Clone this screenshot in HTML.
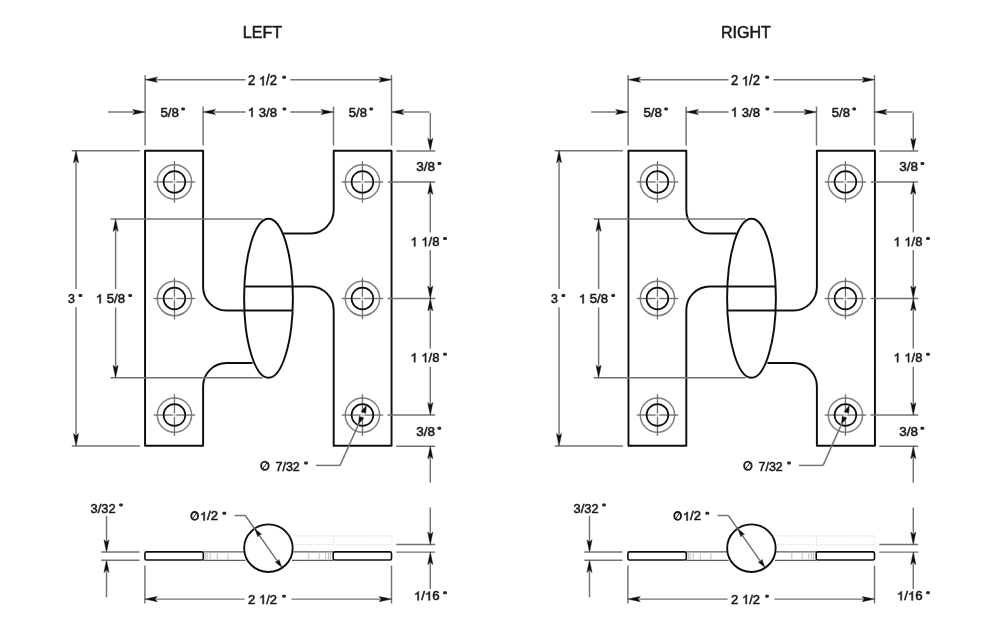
<!DOCTYPE html>
<html><head><meta charset="utf-8"><title>Hinge dimensions</title>
<style>
html,body{margin:0;padding:0;background:#fff;overflow:hidden;}
svg{display:block;font-family:"Liberation Sans",sans-serif;}
</style></head><body>
<svg width="989" height="638" viewBox="0 0 989 638">
<defs><filter id="b" x="0" y="0" width="989" height="638" filterUnits="userSpaceOnUse"><feGaussianBlur stdDeviation="0.55"/></filter></defs>
<rect width="989" height="638" fill="#fff"/>
<g filter="url(#b)">
<g transform="translate(242.82 37.75) scale(1.0138 1)" fill="#1a1a1a" stroke="#1a1a1a" stroke-width="0.55" font-size="15.8">
<text x="0.00" y="0" xml:space="preserve">LEFT</text>
</g>
<g transform="translate(721.02 37.75) scale(1.0145 1)" fill="#1a1a1a" stroke="#1a1a1a" stroke-width="0.55" font-size="15.8">
<text x="0.00" y="0" xml:space="preserve">RIGHT</text>
</g>
<path d="M294.00 535.90L391.80 535.90" stroke="#d4d4d4" stroke-width="1" fill="none" stroke-dasharray="1.2 1.6"/>
<path d="M294.00 544.80L391.80 544.80" stroke="#cacaca" stroke-width="1" fill="none" stroke-dasharray="1.2 1.6"/>
<path d="M333.50 535.90L333.50 544.80" stroke="#dcdcdc" stroke-width="1" fill="none" stroke-dasharray="1.2 1.6"/>
<path d="M391.80 535.90L391.80 544.80" stroke="#dcdcdc" stroke-width="1" fill="none" stroke-dasharray="1.2 1.6"/>
<path d="M203.30 551.85L245.50 551.85" stroke="#5c5c5c" stroke-width="1.25" fill="none" />
<path d="M292.00 551.85L333.20 551.85" stroke="#5c5c5c" stroke-width="1.25" fill="none" />
<path d="M203.30 560.25L245.50 560.25" stroke="#5c5c5c" stroke-width="1.25" fill="none" />
<path d="M292.00 560.25L333.20 560.25" stroke="#5c5c5c" stroke-width="1.25" fill="none" />
<path d="M205.40 551.90L205.40 560.20" stroke="#c2c2c2" stroke-width="1" fill="none" />
<path d="M207.20 551.90L207.20 560.20" stroke="#c2c2c2" stroke-width="1" fill="none" />
<path d="M210.20 551.90L210.20 560.20" stroke="#c2c2c2" stroke-width="1" fill="none" />
<path d="M217.30 551.90L217.30 560.20" stroke="#c2c2c2" stroke-width="1" fill="none" />
<path d="M227.90 551.90L227.90 560.20" stroke="#c2c2c2" stroke-width="1" fill="none" />
<path d="M308.80 551.90L308.80 560.20" stroke="#c2c2c2" stroke-width="1" fill="none" />
<path d="M319.20 551.90L319.20 560.20" stroke="#c2c2c2" stroke-width="1" fill="none" />
<path d="M325.70 551.90L325.70 560.20" stroke="#c2c2c2" stroke-width="1" fill="none" />
<path d="M328.60 551.90L328.60 560.20" stroke="#c2c2c2" stroke-width="1" fill="none" />
<path d="M330.60 551.90L330.60 560.20" stroke="#c2c2c2" stroke-width="1" fill="none" />
<rect x="144.90" y="551.9" width="58.40" height="8.1" rx="1.6" fill="#fff" stroke="#111" stroke-width="1.6"/>
<rect x="333.20" y="551.9" width="58.30" height="8.1" rx="1.6" fill="#fff" stroke="#111" stroke-width="1.6"/>
<ellipse cx="268.40" cy="548.15" rx="24.25" ry="23.8" fill="#fff" stroke="#111" stroke-width="1.9"/>
<g transform="translate(0.00 0)">
<path d="M292.8 310.5H226.5A23.4 23.4 0 0 1 203.1 287.1V150.7H145.05V445.7H203.1V386.4A23.4 23.4 0 0 1 226.5 363.0H252.6" fill="none" stroke="#111" stroke-width="1.95" stroke-linejoin="round" stroke-linecap="butt"/>
<path d="M283.4 233.5H310.3A23.4 23.4 0 0 0 333.7 210.1V150.7H391.55V445.7H333.7V309.9A23.4 23.4 0 0 0 310.3 286.5H244.2" fill="none" stroke="#111" stroke-width="1.95" stroke-linejoin="round" stroke-linecap="butt"/>
<ellipse cx="268.5" cy="298.3" rx="24.4" ry="79.5" fill="none" stroke="#111" stroke-width="1.95" stroke-linejoin="round" stroke-linecap="butt"/>
</g>
<circle cx="174.45" cy="181.95" r="17.15" fill="none" stroke="#808080" stroke-width="1.5"/>
<path d="M171.45 181.95L177.45 181.95" stroke="#c8c8c8" stroke-width="1.2" fill="none"/>
<path d="M153.65 181.95L172.45 181.95" stroke="#6e6e6e" stroke-width="1.3" fill="none"/>
<path d="M176.45 181.95L195.25 181.95" stroke="#6e6e6e" stroke-width="1.3" fill="none"/>
<path d="M174.45 178.95L174.45 184.95" stroke="#c8c8c8" stroke-width="1.2" fill="none"/>
<path d="M174.45 161.15L174.45 179.95" stroke="#6e6e6e" stroke-width="1.3" fill="none"/>
<path d="M174.45 183.95L174.45 202.75" stroke="#6e6e6e" stroke-width="1.3" fill="none"/>
<circle cx="174.45" cy="181.95" r="10.85" fill="none" stroke="#111" stroke-width="1.65"/>
<circle cx="174.45" cy="298.5" r="17.15" fill="none" stroke="#808080" stroke-width="1.5"/>
<path d="M171.45 298.50L177.45 298.50" stroke="#c8c8c8" stroke-width="1.2" fill="none"/>
<path d="M153.65 298.50L172.45 298.50" stroke="#6e6e6e" stroke-width="1.3" fill="none"/>
<path d="M176.45 298.50L195.25 298.50" stroke="#6e6e6e" stroke-width="1.3" fill="none"/>
<path d="M174.45 295.50L174.45 301.50" stroke="#c8c8c8" stroke-width="1.2" fill="none"/>
<path d="M174.45 277.70L174.45 296.50" stroke="#6e6e6e" stroke-width="1.3" fill="none"/>
<path d="M174.45 300.50L174.45 319.30" stroke="#6e6e6e" stroke-width="1.3" fill="none"/>
<circle cx="174.45" cy="298.5" r="10.85" fill="none" stroke="#111" stroke-width="1.65"/>
<circle cx="174.45" cy="415.05" r="17.15" fill="none" stroke="#808080" stroke-width="1.5"/>
<path d="M171.45 415.05L177.45 415.05" stroke="#c8c8c8" stroke-width="1.2" fill="none"/>
<path d="M153.65 415.05L172.45 415.05" stroke="#6e6e6e" stroke-width="1.3" fill="none"/>
<path d="M176.45 415.05L195.25 415.05" stroke="#6e6e6e" stroke-width="1.3" fill="none"/>
<path d="M174.45 412.05L174.45 418.05" stroke="#c8c8c8" stroke-width="1.2" fill="none"/>
<path d="M174.45 394.25L174.45 413.05" stroke="#6e6e6e" stroke-width="1.3" fill="none"/>
<path d="M174.45 417.05L174.45 435.85" stroke="#6e6e6e" stroke-width="1.3" fill="none"/>
<circle cx="174.45" cy="415.05" r="10.85" fill="none" stroke="#111" stroke-width="1.65"/>
<circle cx="362.45" cy="181.95" r="17.15" fill="none" stroke="#808080" stroke-width="1.5"/>
<path d="M359.45 181.95L365.45 181.95" stroke="#c8c8c8" stroke-width="1.2" fill="none"/>
<path d="M341.65 181.95L360.45 181.95" stroke="#6e6e6e" stroke-width="1.3" fill="none"/>
<path d="M364.45 181.95L383.25 181.95" stroke="#6e6e6e" stroke-width="1.3" fill="none"/>
<path d="M362.45 178.95L362.45 184.95" stroke="#c8c8c8" stroke-width="1.2" fill="none"/>
<path d="M362.45 161.15L362.45 179.95" stroke="#6e6e6e" stroke-width="1.3" fill="none"/>
<path d="M362.45 183.95L362.45 202.75" stroke="#6e6e6e" stroke-width="1.3" fill="none"/>
<circle cx="362.45" cy="181.95" r="10.85" fill="none" stroke="#111" stroke-width="1.65"/>
<circle cx="362.45" cy="298.5" r="17.15" fill="none" stroke="#808080" stroke-width="1.5"/>
<path d="M359.45 298.50L365.45 298.50" stroke="#c8c8c8" stroke-width="1.2" fill="none"/>
<path d="M341.65 298.50L360.45 298.50" stroke="#6e6e6e" stroke-width="1.3" fill="none"/>
<path d="M364.45 298.50L383.25 298.50" stroke="#6e6e6e" stroke-width="1.3" fill="none"/>
<path d="M362.45 295.50L362.45 301.50" stroke="#c8c8c8" stroke-width="1.2" fill="none"/>
<path d="M362.45 277.70L362.45 296.50" stroke="#6e6e6e" stroke-width="1.3" fill="none"/>
<path d="M362.45 300.50L362.45 319.30" stroke="#6e6e6e" stroke-width="1.3" fill="none"/>
<circle cx="362.45" cy="298.5" r="10.85" fill="none" stroke="#111" stroke-width="1.65"/>
<circle cx="362.45" cy="415.05" r="17.15" fill="none" stroke="#808080" stroke-width="1.5"/>
<path d="M359.45 415.05L365.45 415.05" stroke="#c8c8c8" stroke-width="1.2" fill="none"/>
<path d="M341.65 415.05L360.45 415.05" stroke="#6e6e6e" stroke-width="1.3" fill="none"/>
<path d="M364.45 415.05L383.25 415.05" stroke="#6e6e6e" stroke-width="1.3" fill="none"/>
<path d="M362.45 412.05L362.45 418.05" stroke="#c8c8c8" stroke-width="1.2" fill="none"/>
<path d="M362.45 394.25L362.45 413.05" stroke="#6e6e6e" stroke-width="1.3" fill="none"/>
<path d="M362.45 417.05L362.45 435.85" stroke="#6e6e6e" stroke-width="1.3" fill="none"/>
<circle cx="362.45" cy="415.05" r="10.85" fill="none" stroke="#111" stroke-width="1.65"/>
<path d="M145.10 75.00L145.10 145.50" stroke="#727272" stroke-width="1.45" fill="none" />
<path d="M391.50 75.00L391.50 145.50" stroke="#727272" stroke-width="1.45" fill="none" />
<path d="M203.10 106.50L203.10 145.50" stroke="#727272" stroke-width="1.45" fill="none" />
<path d="M333.50 106.50L333.50 145.50" stroke="#727272" stroke-width="1.45" fill="none" />
<path d="M155.10 79.70L245.50 79.70" stroke="#727272" stroke-width="1.45" fill="none" />
<path d="M290.30 79.70L381.50 79.70" stroke="#727272" stroke-width="1.45" fill="none" />
<path d="M145.10 79.70L157.50 77.15L155.20 79.70L157.50 82.25Z" fill="#111" stroke="#111" stroke-width="0.45" stroke-linejoin="miter"/>
<path d="M391.50 79.70L379.10 82.25L381.40 79.70L379.10 77.15Z" fill="#111" stroke="#111" stroke-width="0.45" stroke-linejoin="miter"/>
<g transform="translate(247.92 85.45) scale(0.9469 1)" fill="#1a1a1a" stroke="#1a1a1a" stroke-width="0.55" font-size="13.8">
<text x="0.00" y="0" xml:space="preserve">2 </text>
<path transform="translate(11.51 0) scale(0.006738 0.006435)" d="M763 0H583V-1147Q518 -1085 412.5 -1023Q307 -961 223 -930V-1104Q374 -1175 487 -1276Q600 -1377 647 -1472H763Z" stroke-width="81.6"/>
<text x="19.18" y="0" xml:space="preserve">/2</text>
</g>
<rect x="282.20" y="75.79" width="3.8" height="3.0" rx="1.1" fill="#2a2a2a"/>
<path d="M108.10 112.00L135.10 112.00" stroke="#727272" stroke-width="1.45" fill="none" />
<path d="M145.10 112.00L132.70 114.55L135.00 112.00L132.70 109.45Z" fill="#111" stroke="#111" stroke-width="0.45" stroke-linejoin="miter"/>
<g transform="translate(160.42 116.75) scale(1.0041 1)" fill="#1a1a1a" stroke="#1a1a1a" stroke-width="0.55" font-size="13.3">
<text x="0.00" y="0" xml:space="preserve">5/8</text>
</g>
<rect x="181.20" y="107.44" width="3.8" height="3.0" rx="1.1" fill="#2a2a2a"/>
<path d="M203.10 112.00L215.50 109.45L213.20 112.00L215.50 114.55Z" fill="#111" stroke="#111" stroke-width="0.45" stroke-linejoin="miter"/>
<path d="M213.10 112.00L245.50 112.00" stroke="#727272" stroke-width="1.45" fill="none" />
<g transform="translate(247.69 116.75) scale(0.9905 1)" fill="#1a1a1a" stroke="#1a1a1a" stroke-width="0.55" font-size="13.3">
<path transform="translate(0.00 0) scale(0.006494 0.006202)" d="M763 0H583V-1147Q518 -1085 412.5 -1023Q307 -961 223 -930V-1104Q374 -1175 487 -1276Q600 -1377 647 -1472H763Z" stroke-width="84.7"/>
<text x="7.40" y="0" xml:space="preserve"> 3/8</text>
</g>
<rect x="282.50" y="107.44" width="3.8" height="3.0" rx="1.1" fill="#2a2a2a"/>
<path d="M290.30 112.00L323.50 112.00" stroke="#727272" stroke-width="1.45" fill="none" />
<path d="M333.50 112.00L321.10 114.55L323.40 112.00L321.10 109.45Z" fill="#111" stroke="#111" stroke-width="0.45" stroke-linejoin="miter"/>
<g transform="translate(348.82 116.75) scale(0.9825 1)" fill="#1a1a1a" stroke="#1a1a1a" stroke-width="0.55" font-size="13.3">
<text x="0.00" y="0" xml:space="preserve">5/8</text>
</g>
<rect x="369.30" y="107.44" width="3.8" height="3.0" rx="1.1" fill="#2a2a2a"/>
<path d="M391.50 112.00L403.90 109.45L401.60 112.00L403.90 114.55Z" fill="#111" stroke="#111" stroke-width="0.45" stroke-linejoin="miter"/>
<path d="M401.50 112.00L429.60 112.00" stroke="#727272" stroke-width="1.45" fill="none" />
<path d="M430.30 112.90L430.30 140.50" stroke="#727272" stroke-width="1.45" fill="none" />
<path d="M430.30 150.60L427.75 138.20L430.30 140.50L432.85 138.20Z" fill="#111" stroke="#111" stroke-width="0.45" stroke-linejoin="miter"/>
<path d="M396.40 150.90L435.20 150.90" stroke="#727272" stroke-width="1.45" fill="none" />
<path d="M388.00 181.95L435.20 181.95" stroke="#727272" stroke-width="1.45" fill="none" />
<path d="M387.70 298.45L435.20 298.45" stroke="#727272" stroke-width="1.45" fill="none" />
<path d="M387.50 415.00L435.20 415.00" stroke="#727272" stroke-width="1.45" fill="none" />
<path d="M396.30 446.30L435.20 446.30" stroke="#727272" stroke-width="1.45" fill="none" />
<path d="M396.30 544.50L435.20 544.50" stroke="#727272" stroke-width="1.45" fill="none" />
<path d="M396.30 552.10L435.20 552.10" stroke="#727272" stroke-width="1.45" fill="none" />
<g transform="translate(416.22 171.30) scale(1.0149 1)" fill="#1a1a1a" stroke="#1a1a1a" stroke-width="0.55" font-size="13.3">
<text x="0.00" y="0" xml:space="preserve">3/8</text>
</g>
<rect x="437.50" y="161.99" width="3.8" height="3.0" rx="1.1" fill="#2a2a2a"/>
<path d="M430.30 181.95L432.85 194.35L430.30 192.05L427.75 194.35Z" fill="#111" stroke="#111" stroke-width="0.45" stroke-linejoin="miter"/>
<path d="M430.30 191.95L430.30 232.50" stroke="#727272" stroke-width="1.45" fill="none" />
<g transform="translate(410.40 246.35) scale(0.9798 1)" fill="#1a1a1a" stroke="#1a1a1a" stroke-width="0.55" font-size="13.3">
<path transform="translate(0.00 0) scale(0.006494 0.006202)" d="M763 0H583V-1147Q518 -1085 412.5 -1023Q307 -961 223 -930V-1104Q374 -1175 487 -1276Q600 -1377 647 -1472H763Z" stroke-width="84.7"/>
<path transform="translate(11.09 0) scale(0.006494 0.006202)" d="M763 0H583V-1147Q518 -1085 412.5 -1023Q307 -961 223 -930V-1104Q374 -1175 487 -1276Q600 -1377 647 -1472H763Z" stroke-width="84.7"/>
<text x="18.49" y="0" xml:space="preserve">/8</text>
</g>
<rect x="443.10" y="237.04" width="3.8" height="3.0" rx="1.1" fill="#2a2a2a"/>
<path d="M430.30 250.00L430.30 288.45" stroke="#727272" stroke-width="1.45" fill="none" />
<path d="M430.30 298.45L427.75 286.05L430.30 288.35L432.85 286.05Z" fill="#111" stroke="#111" stroke-width="0.45" stroke-linejoin="miter"/>
<path d="M430.30 298.45L432.85 310.85L430.30 308.55L427.75 310.85Z" fill="#111" stroke="#111" stroke-width="0.45" stroke-linejoin="miter"/>
<path d="M430.30 308.45L430.30 348.50" stroke="#727272" stroke-width="1.45" fill="none" />
<g transform="translate(410.40 362.15) scale(0.9798 1)" fill="#1a1a1a" stroke="#1a1a1a" stroke-width="0.55" font-size="13.3">
<path transform="translate(0.00 0) scale(0.006494 0.006202)" d="M763 0H583V-1147Q518 -1085 412.5 -1023Q307 -961 223 -930V-1104Q374 -1175 487 -1276Q600 -1377 647 -1472H763Z" stroke-width="84.7"/>
<path transform="translate(11.09 0) scale(0.006494 0.006202)" d="M763 0H583V-1147Q518 -1085 412.5 -1023Q307 -961 223 -930V-1104Q374 -1175 487 -1276Q600 -1377 647 -1472H763Z" stroke-width="84.7"/>
<text x="18.49" y="0" xml:space="preserve">/8</text>
</g>
<rect x="443.10" y="352.84" width="3.8" height="3.0" rx="1.1" fill="#2a2a2a"/>
<path d="M430.30 366.70L430.30 405.00" stroke="#727272" stroke-width="1.45" fill="none" />
<path d="M430.30 415.00L427.75 402.60L430.30 404.90L432.85 402.60Z" fill="#111" stroke="#111" stroke-width="0.45" stroke-linejoin="miter"/>
<g transform="translate(416.32 436.05) scale(1.0149 1)" fill="#1a1a1a" stroke="#1a1a1a" stroke-width="0.55" font-size="13.3">
<text x="0.00" y="0" xml:space="preserve">3/8</text>
</g>
<rect x="437.40" y="426.74" width="3.8" height="3.0" rx="1.1" fill="#2a2a2a"/>
<path d="M430.30 446.30L432.85 458.70L430.30 456.40L427.75 458.70Z" fill="#111" stroke="#111" stroke-width="0.45" stroke-linejoin="miter"/>
<path d="M430.30 456.30L430.30 482.70" stroke="#727272" stroke-width="1.45" fill="none" />
<path d="M430.30 507.60L430.30 534.50" stroke="#727272" stroke-width="1.45" fill="none" />
<path d="M430.30 544.50L427.75 532.10L430.30 534.40L432.85 532.10Z" fill="#111" stroke="#111" stroke-width="0.45" stroke-linejoin="miter"/>
<path d="M430.30 552.10L432.85 564.50L430.30 562.20L427.75 564.50Z" fill="#111" stroke="#111" stroke-width="0.45" stroke-linejoin="miter"/>
<path d="M430.30 562.10L430.30 589.00" stroke="#727272" stroke-width="1.45" fill="none" />
<g transform="translate(413.77 600.35) scale(1.0322 1)" fill="#1a1a1a" stroke="#1a1a1a" stroke-width="0.55" font-size="12.9">
<path transform="translate(0.00 0) scale(0.006299 0.006015)" d="M763 0H583V-1147Q518 -1085 412.5 -1023Q307 -961 223 -930V-1104Q374 -1175 487 -1276Q600 -1377 647 -1472H763Z" stroke-width="87.3"/>
<text x="7.17" y="0" xml:space="preserve">/</text>
<path transform="translate(10.76 0) scale(0.006299 0.006015)" d="M763 0H583V-1147Q518 -1085 412.5 -1023Q307 -961 223 -930V-1104Q374 -1175 487 -1276Q600 -1377 647 -1472H763Z" stroke-width="87.3"/>
<text x="17.93" y="0" xml:space="preserve">6</text>
</g>
<rect x="443.10" y="591.32" width="3.8" height="3.0" rx="1.1" fill="#2a2a2a"/>
<path d="M71.80 150.70L139.90 150.70" stroke="#727272" stroke-width="1.45" fill="none" />
<path d="M71.80 446.00L139.90 446.00" stroke="#727272" stroke-width="1.45" fill="none" />
<path d="M76.05 150.50L78.60 162.90L76.05 160.60L73.50 162.90Z" fill="#111" stroke="#111" stroke-width="0.45" stroke-linejoin="miter"/>
<path d="M76.05 160.50L76.05 289.00" stroke="#727272" stroke-width="1.45" fill="none" />
<path d="M76.05 307.30L76.05 436.00" stroke="#727272" stroke-width="1.45" fill="none" />
<path d="M76.05 446.00L73.50 433.60L76.05 435.90L78.60 433.60Z" fill="#111" stroke="#111" stroke-width="0.45" stroke-linejoin="miter"/>
<g transform="translate(68.12 303.35) scale(0.9280 1)" fill="#1a1a1a" stroke="#1a1a1a" stroke-width="0.55" font-size="13.3">
<text x="0.00" y="0" xml:space="preserve">3</text>
</g>
<rect x="78.50" y="294.04" width="3.8" height="3.0" rx="1.1" fill="#2a2a2a"/>
<path d="M110.60 219.00L262.60 219.00" stroke="#727272" stroke-width="1.45" fill="none" />
<path d="M110.60 377.70L262.60 377.70" stroke="#727272" stroke-width="1.45" fill="none" />
<path d="M115.60 219.00L118.15 231.40L115.60 229.10L113.05 231.40Z" fill="#111" stroke="#111" stroke-width="0.45" stroke-linejoin="miter"/>
<path d="M115.60 229.00L115.60 289.00" stroke="#727272" stroke-width="1.45" fill="none" />
<path d="M115.60 307.50L115.60 367.70" stroke="#727272" stroke-width="1.45" fill="none" />
<path d="M115.60 377.70L113.05 365.30L115.60 367.60L118.15 365.30Z" fill="#111" stroke="#111" stroke-width="0.45" stroke-linejoin="miter"/>
<g transform="translate(95.79 303.35) scale(0.9905 1)" fill="#1a1a1a" stroke="#1a1a1a" stroke-width="0.55" font-size="13.3">
<path transform="translate(0.00 0) scale(0.006494 0.006202)" d="M763 0H583V-1147Q518 -1085 412.5 -1023Q307 -961 223 -930V-1104Q374 -1175 487 -1276Q600 -1377 647 -1472H763Z" stroke-width="84.7"/>
<text x="7.40" y="0" xml:space="preserve"> 5/8</text>
</g>
<rect x="128.30" y="294.04" width="3.8" height="3.0" rx="1.1" fill="#2a2a2a"/>
<ellipse cx="264.90" cy="465.70" rx="3.75" ry="4.10" fill="none" stroke="#1a1a1a" stroke-width="1.85"/>
<path d="M262.20 469.39L267.60 462.01" stroke="#1a1a1a" stroke-width="1.0" fill="none"/>
<g transform="translate(275.52 470.55) scale(0.9740 1)" fill="#1a1a1a" stroke="#1a1a1a" stroke-width="0.55" font-size="12.8">
<text x="0.00" y="0" xml:space="preserve">7/32</text>
</g>
<rect x="304.10" y="461.59" width="3.8" height="3.0" rx="1.1" fill="#2a2a2a"/>
<path d="M315.90 465.40L340.10 465.40" stroke="#727272" stroke-width="1.45" fill="none" />
<path d="M340.10 465.40L358.99 423.11" stroke="#727272" stroke-width="1.45" fill="none" />
<path d="M366.26 405.66L365.67 413.44L363.49 412.31L361.15 411.55Z" fill="#111" stroke="#111" stroke-width="0.45" stroke-linejoin="miter"/>
<path d="M358.64 423.94L359.23 416.16L361.41 417.29L363.75 418.05Z" fill="#111" stroke="#111" stroke-width="0.45" stroke-linejoin="miter"/>
<g transform="translate(90.52 512.75) scale(0.9683 1)" fill="#1a1a1a" stroke="#1a1a1a" stroke-width="0.55" font-size="13.3">
<text x="0.00" y="0" xml:space="preserve">3/32</text>
</g>
<rect x="119.10" y="503.44" width="3.8" height="3.0" rx="1.1" fill="#2a2a2a"/>
<path d="M106.50 515.80L106.50 542.20" stroke="#727272" stroke-width="1.45" fill="none" />
<path d="M106.50 552.20L103.95 539.80L106.50 542.10L109.05 539.80Z" fill="#111" stroke="#111" stroke-width="0.45" stroke-linejoin="miter"/>
<path d="M106.50 560.00L109.05 572.40L106.50 570.10L103.95 572.40Z" fill="#111" stroke="#111" stroke-width="0.45" stroke-linejoin="miter"/>
<path d="M106.50 570.00L106.50 597.30" stroke="#727272" stroke-width="1.45" fill="none" />
<path d="M101.30 551.90L139.50 551.90" stroke="#727272" stroke-width="1.45" fill="none" />
<path d="M101.30 560.20L139.50 560.20" stroke="#727272" stroke-width="1.45" fill="none" />
<path d="M144.90 565.60L144.90 603.50" stroke="#727272" stroke-width="1.45" fill="none" />
<path d="M391.50 565.60L391.50 603.50" stroke="#727272" stroke-width="1.45" fill="none" />
<path d="M144.90 599.10L157.30 596.55L155.00 599.10L157.30 601.65Z" fill="#111" stroke="#111" stroke-width="0.45" stroke-linejoin="miter"/>
<path d="M154.90 599.10L244.60 599.10" stroke="#727272" stroke-width="1.45" fill="none" />
<path d="M291.40 599.10L381.50 599.10" stroke="#727272" stroke-width="1.45" fill="none" />
<path d="M391.50 599.10L379.10 601.65L381.40 599.10L379.10 596.55Z" fill="#111" stroke="#111" stroke-width="0.45" stroke-linejoin="miter"/>
<g transform="translate(248.02 603.95) scale(0.9825 1)" fill="#1a1a1a" stroke="#1a1a1a" stroke-width="0.55" font-size="13.3">
<text x="0.00" y="0" xml:space="preserve">2 </text>
<path transform="translate(11.09 0) scale(0.006494 0.006202)" d="M763 0H583V-1147Q518 -1085 412.5 -1023Q307 -961 223 -930V-1104Q374 -1175 487 -1276Q600 -1377 647 -1472H763Z" stroke-width="84.7"/>
<text x="18.49" y="0" xml:space="preserve">/2</text>
</g>
<rect x="282.10" y="594.64" width="3.8" height="3.0" rx="1.1" fill="#2a2a2a"/>
<ellipse cx="194.65" cy="515.90" rx="3.40" ry="3.95" fill="none" stroke="#1a1a1a" stroke-width="1.85"/>
<path d="M192.20 519.45L197.10 512.35" stroke="#1a1a1a" stroke-width="1.0" fill="none"/>
<g transform="translate(199.80 520.45) scale(1.0552 1)" fill="#1a1a1a" stroke="#1a1a1a" stroke-width="0.55" font-size="12.4">
<path transform="translate(0.00 0) scale(0.006055 0.005782)" d="M763 0H583V-1147Q518 -1085 412.5 -1023Q307 -961 223 -930V-1104Q374 -1175 487 -1276Q600 -1377 647 -1472H763Z" stroke-width="90.8"/>
<text x="6.90" y="0" xml:space="preserve">/2</text>
</g>
<rect x="222.40" y="511.77" width="3.8" height="3.0" rx="1.1" fill="#2a2a2a"/>
<path d="M234.60 515.50L245.30 515.50" stroke="#727272" stroke-width="1.45" fill="none" />
<path d="M245.30 515.50L279.82 564.57" stroke="#727272" stroke-width="1.45" fill="none" />
<path d="M281.70 567.28L275.29 562.00L277.65 561.45L278.98 559.43Z" fill="#111" stroke="#111" stroke-width="0.45" stroke-linejoin="miter"/>
<path d="M255.10 529.02L261.51 534.30L259.15 534.85L257.82 536.87Z" fill="#111" stroke="#111" stroke-width="0.45" stroke-linejoin="miter"/>
<path d="M777.00 535.90L874.80 535.90" stroke="#d4d4d4" stroke-width="1" fill="none" stroke-dasharray="1.2 1.6"/>
<path d="M777.00 544.80L874.80 544.80" stroke="#cacaca" stroke-width="1" fill="none" stroke-dasharray="1.2 1.6"/>
<path d="M816.50 535.90L816.50 544.80" stroke="#dcdcdc" stroke-width="1" fill="none" stroke-dasharray="1.2 1.6"/>
<path d="M874.80 535.90L874.80 544.80" stroke="#dcdcdc" stroke-width="1" fill="none" stroke-dasharray="1.2 1.6"/>
<path d="M686.30 551.85L728.50 551.85" stroke="#5c5c5c" stroke-width="1.25" fill="none" />
<path d="M775.00 551.85L816.20 551.85" stroke="#5c5c5c" stroke-width="1.25" fill="none" />
<path d="M686.30 560.25L728.50 560.25" stroke="#5c5c5c" stroke-width="1.25" fill="none" />
<path d="M775.00 560.25L816.20 560.25" stroke="#5c5c5c" stroke-width="1.25" fill="none" />
<path d="M688.40 551.90L688.40 560.20" stroke="#c2c2c2" stroke-width="1" fill="none" />
<path d="M690.20 551.90L690.20 560.20" stroke="#c2c2c2" stroke-width="1" fill="none" />
<path d="M693.20 551.90L693.20 560.20" stroke="#c2c2c2" stroke-width="1" fill="none" />
<path d="M700.30 551.90L700.30 560.20" stroke="#c2c2c2" stroke-width="1" fill="none" />
<path d="M710.90 551.90L710.90 560.20" stroke="#c2c2c2" stroke-width="1" fill="none" />
<path d="M791.80 551.90L791.80 560.20" stroke="#c2c2c2" stroke-width="1" fill="none" />
<path d="M802.20 551.90L802.20 560.20" stroke="#c2c2c2" stroke-width="1" fill="none" />
<path d="M808.70 551.90L808.70 560.20" stroke="#c2c2c2" stroke-width="1" fill="none" />
<path d="M811.60 551.90L811.60 560.20" stroke="#c2c2c2" stroke-width="1" fill="none" />
<path d="M813.60 551.90L813.60 560.20" stroke="#c2c2c2" stroke-width="1" fill="none" />
<rect x="627.90" y="551.9" width="58.40" height="8.1" rx="1.6" fill="#fff" stroke="#111" stroke-width="1.6"/>
<rect x="816.20" y="551.9" width="58.30" height="8.1" rx="1.6" fill="#fff" stroke="#111" stroke-width="1.6"/>
<ellipse cx="751.40" cy="548.15" rx="24.25" ry="23.8" fill="#fff" stroke="#111" stroke-width="1.9"/>
<g transform="translate(1020.00 0) scale(-1 1)">
<path d="M292.8 310.5H226.5A23.4 23.4 0 0 1 203.1 287.1V150.7H145.05V445.7H203.1V386.4A23.4 23.4 0 0 1 226.5 363.0H252.6" fill="none" stroke="#111" stroke-width="1.95" stroke-linejoin="round" stroke-linecap="butt"/>
<path d="M283.4 233.5H310.3A23.4 23.4 0 0 0 333.7 210.1V150.7H391.55V445.7H333.7V309.9A23.4 23.4 0 0 0 310.3 286.5H244.2" fill="none" stroke="#111" stroke-width="1.95" stroke-linejoin="round" stroke-linecap="butt"/>
<ellipse cx="268.5" cy="298.3" rx="24.4" ry="79.5" fill="none" stroke="#111" stroke-width="1.95" stroke-linejoin="round" stroke-linecap="butt"/>
</g>
<circle cx="657.45" cy="181.95" r="17.15" fill="none" stroke="#808080" stroke-width="1.5"/>
<path d="M654.45 181.95L660.45 181.95" stroke="#c8c8c8" stroke-width="1.2" fill="none"/>
<path d="M636.65 181.95L655.45 181.95" stroke="#6e6e6e" stroke-width="1.3" fill="none"/>
<path d="M659.45 181.95L678.25 181.95" stroke="#6e6e6e" stroke-width="1.3" fill="none"/>
<path d="M657.45 178.95L657.45 184.95" stroke="#c8c8c8" stroke-width="1.2" fill="none"/>
<path d="M657.45 161.15L657.45 179.95" stroke="#6e6e6e" stroke-width="1.3" fill="none"/>
<path d="M657.45 183.95L657.45 202.75" stroke="#6e6e6e" stroke-width="1.3" fill="none"/>
<circle cx="657.45" cy="181.95" r="10.85" fill="none" stroke="#111" stroke-width="1.65"/>
<circle cx="657.45" cy="298.5" r="17.15" fill="none" stroke="#808080" stroke-width="1.5"/>
<path d="M654.45 298.50L660.45 298.50" stroke="#c8c8c8" stroke-width="1.2" fill="none"/>
<path d="M636.65 298.50L655.45 298.50" stroke="#6e6e6e" stroke-width="1.3" fill="none"/>
<path d="M659.45 298.50L678.25 298.50" stroke="#6e6e6e" stroke-width="1.3" fill="none"/>
<path d="M657.45 295.50L657.45 301.50" stroke="#c8c8c8" stroke-width="1.2" fill="none"/>
<path d="M657.45 277.70L657.45 296.50" stroke="#6e6e6e" stroke-width="1.3" fill="none"/>
<path d="M657.45 300.50L657.45 319.30" stroke="#6e6e6e" stroke-width="1.3" fill="none"/>
<circle cx="657.45" cy="298.5" r="10.85" fill="none" stroke="#111" stroke-width="1.65"/>
<circle cx="657.45" cy="415.05" r="17.15" fill="none" stroke="#808080" stroke-width="1.5"/>
<path d="M654.45 415.05L660.45 415.05" stroke="#c8c8c8" stroke-width="1.2" fill="none"/>
<path d="M636.65 415.05L655.45 415.05" stroke="#6e6e6e" stroke-width="1.3" fill="none"/>
<path d="M659.45 415.05L678.25 415.05" stroke="#6e6e6e" stroke-width="1.3" fill="none"/>
<path d="M657.45 412.05L657.45 418.05" stroke="#c8c8c8" stroke-width="1.2" fill="none"/>
<path d="M657.45 394.25L657.45 413.05" stroke="#6e6e6e" stroke-width="1.3" fill="none"/>
<path d="M657.45 417.05L657.45 435.85" stroke="#6e6e6e" stroke-width="1.3" fill="none"/>
<circle cx="657.45" cy="415.05" r="10.85" fill="none" stroke="#111" stroke-width="1.65"/>
<circle cx="845.45" cy="181.95" r="17.15" fill="none" stroke="#808080" stroke-width="1.5"/>
<path d="M842.45 181.95L848.45 181.95" stroke="#c8c8c8" stroke-width="1.2" fill="none"/>
<path d="M824.65 181.95L843.45 181.95" stroke="#6e6e6e" stroke-width="1.3" fill="none"/>
<path d="M847.45 181.95L866.25 181.95" stroke="#6e6e6e" stroke-width="1.3" fill="none"/>
<path d="M845.45 178.95L845.45 184.95" stroke="#c8c8c8" stroke-width="1.2" fill="none"/>
<path d="M845.45 161.15L845.45 179.95" stroke="#6e6e6e" stroke-width="1.3" fill="none"/>
<path d="M845.45 183.95L845.45 202.75" stroke="#6e6e6e" stroke-width="1.3" fill="none"/>
<circle cx="845.45" cy="181.95" r="10.85" fill="none" stroke="#111" stroke-width="1.65"/>
<circle cx="845.45" cy="298.5" r="17.15" fill="none" stroke="#808080" stroke-width="1.5"/>
<path d="M842.45 298.50L848.45 298.50" stroke="#c8c8c8" stroke-width="1.2" fill="none"/>
<path d="M824.65 298.50L843.45 298.50" stroke="#6e6e6e" stroke-width="1.3" fill="none"/>
<path d="M847.45 298.50L866.25 298.50" stroke="#6e6e6e" stroke-width="1.3" fill="none"/>
<path d="M845.45 295.50L845.45 301.50" stroke="#c8c8c8" stroke-width="1.2" fill="none"/>
<path d="M845.45 277.70L845.45 296.50" stroke="#6e6e6e" stroke-width="1.3" fill="none"/>
<path d="M845.45 300.50L845.45 319.30" stroke="#6e6e6e" stroke-width="1.3" fill="none"/>
<circle cx="845.45" cy="298.5" r="10.85" fill="none" stroke="#111" stroke-width="1.65"/>
<circle cx="845.45" cy="415.05" r="17.15" fill="none" stroke="#808080" stroke-width="1.5"/>
<path d="M842.45 415.05L848.45 415.05" stroke="#c8c8c8" stroke-width="1.2" fill="none"/>
<path d="M824.65 415.05L843.45 415.05" stroke="#6e6e6e" stroke-width="1.3" fill="none"/>
<path d="M847.45 415.05L866.25 415.05" stroke="#6e6e6e" stroke-width="1.3" fill="none"/>
<path d="M845.45 412.05L845.45 418.05" stroke="#c8c8c8" stroke-width="1.2" fill="none"/>
<path d="M845.45 394.25L845.45 413.05" stroke="#6e6e6e" stroke-width="1.3" fill="none"/>
<path d="M845.45 417.05L845.45 435.85" stroke="#6e6e6e" stroke-width="1.3" fill="none"/>
<circle cx="845.45" cy="415.05" r="10.85" fill="none" stroke="#111" stroke-width="1.65"/>
<path d="M628.10 75.00L628.10 145.50" stroke="#727272" stroke-width="1.45" fill="none" />
<path d="M874.50 75.00L874.50 145.50" stroke="#727272" stroke-width="1.45" fill="none" />
<path d="M686.10 106.50L686.10 145.50" stroke="#727272" stroke-width="1.45" fill="none" />
<path d="M816.50 106.50L816.50 145.50" stroke="#727272" stroke-width="1.45" fill="none" />
<path d="M638.10 79.70L728.50 79.70" stroke="#727272" stroke-width="1.45" fill="none" />
<path d="M773.30 79.70L864.50 79.70" stroke="#727272" stroke-width="1.45" fill="none" />
<path d="M628.10 79.70L640.50 77.15L638.20 79.70L640.50 82.25Z" fill="#111" stroke="#111" stroke-width="0.45" stroke-linejoin="miter"/>
<path d="M874.50 79.70L862.10 82.25L864.40 79.70L862.10 77.15Z" fill="#111" stroke="#111" stroke-width="0.45" stroke-linejoin="miter"/>
<g transform="translate(730.92 85.45) scale(0.9469 1)" fill="#1a1a1a" stroke="#1a1a1a" stroke-width="0.55" font-size="13.8">
<text x="0.00" y="0" xml:space="preserve">2 </text>
<path transform="translate(11.51 0) scale(0.006738 0.006435)" d="M763 0H583V-1147Q518 -1085 412.5 -1023Q307 -961 223 -930V-1104Q374 -1175 487 -1276Q600 -1377 647 -1472H763Z" stroke-width="81.6"/>
<text x="19.18" y="0" xml:space="preserve">/2</text>
</g>
<rect x="765.20" y="75.79" width="3.8" height="3.0" rx="1.1" fill="#2a2a2a"/>
<path d="M591.10 112.00L618.10 112.00" stroke="#727272" stroke-width="1.45" fill="none" />
<path d="M628.10 112.00L615.70 114.55L618.00 112.00L615.70 109.45Z" fill="#111" stroke="#111" stroke-width="0.45" stroke-linejoin="miter"/>
<g transform="translate(643.42 116.75) scale(1.0041 1)" fill="#1a1a1a" stroke="#1a1a1a" stroke-width="0.55" font-size="13.3">
<text x="0.00" y="0" xml:space="preserve">5/8</text>
</g>
<rect x="664.20" y="107.44" width="3.8" height="3.0" rx="1.1" fill="#2a2a2a"/>
<path d="M686.10 112.00L698.50 109.45L696.20 112.00L698.50 114.55Z" fill="#111" stroke="#111" stroke-width="0.45" stroke-linejoin="miter"/>
<path d="M696.10 112.00L728.50 112.00" stroke="#727272" stroke-width="1.45" fill="none" />
<g transform="translate(730.69 116.75) scale(0.9905 1)" fill="#1a1a1a" stroke="#1a1a1a" stroke-width="0.55" font-size="13.3">
<path transform="translate(0.00 0) scale(0.006494 0.006202)" d="M763 0H583V-1147Q518 -1085 412.5 -1023Q307 -961 223 -930V-1104Q374 -1175 487 -1276Q600 -1377 647 -1472H763Z" stroke-width="84.7"/>
<text x="7.40" y="0" xml:space="preserve"> 3/8</text>
</g>
<rect x="765.50" y="107.44" width="3.8" height="3.0" rx="1.1" fill="#2a2a2a"/>
<path d="M773.30 112.00L806.50 112.00" stroke="#727272" stroke-width="1.45" fill="none" />
<path d="M816.50 112.00L804.10 114.55L806.40 112.00L804.10 109.45Z" fill="#111" stroke="#111" stroke-width="0.45" stroke-linejoin="miter"/>
<g transform="translate(831.82 116.75) scale(0.9825 1)" fill="#1a1a1a" stroke="#1a1a1a" stroke-width="0.55" font-size="13.3">
<text x="0.00" y="0" xml:space="preserve">5/8</text>
</g>
<rect x="852.30" y="107.44" width="3.8" height="3.0" rx="1.1" fill="#2a2a2a"/>
<path d="M874.50 112.00L886.90 109.45L884.60 112.00L886.90 114.55Z" fill="#111" stroke="#111" stroke-width="0.45" stroke-linejoin="miter"/>
<path d="M884.50 112.00L912.60 112.00" stroke="#727272" stroke-width="1.45" fill="none" />
<path d="M913.30 112.90L913.30 140.50" stroke="#727272" stroke-width="1.45" fill="none" />
<path d="M913.30 150.60L910.75 138.20L913.30 140.50L915.85 138.20Z" fill="#111" stroke="#111" stroke-width="0.45" stroke-linejoin="miter"/>
<path d="M879.40 150.90L918.20 150.90" stroke="#727272" stroke-width="1.45" fill="none" />
<path d="M871.00 181.95L918.20 181.95" stroke="#727272" stroke-width="1.45" fill="none" />
<path d="M870.70 298.45L918.20 298.45" stroke="#727272" stroke-width="1.45" fill="none" />
<path d="M870.50 415.00L918.20 415.00" stroke="#727272" stroke-width="1.45" fill="none" />
<path d="M879.30 446.30L918.20 446.30" stroke="#727272" stroke-width="1.45" fill="none" />
<path d="M879.30 544.50L918.20 544.50" stroke="#727272" stroke-width="1.45" fill="none" />
<path d="M879.30 552.10L918.20 552.10" stroke="#727272" stroke-width="1.45" fill="none" />
<g transform="translate(899.22 171.30) scale(1.0149 1)" fill="#1a1a1a" stroke="#1a1a1a" stroke-width="0.55" font-size="13.3">
<text x="0.00" y="0" xml:space="preserve">3/8</text>
</g>
<rect x="920.50" y="161.99" width="3.8" height="3.0" rx="1.1" fill="#2a2a2a"/>
<path d="M913.30 181.95L915.85 194.35L913.30 192.05L910.75 194.35Z" fill="#111" stroke="#111" stroke-width="0.45" stroke-linejoin="miter"/>
<path d="M913.30 191.95L913.30 232.50" stroke="#727272" stroke-width="1.45" fill="none" />
<g transform="translate(893.40 246.35) scale(0.9798 1)" fill="#1a1a1a" stroke="#1a1a1a" stroke-width="0.55" font-size="13.3">
<path transform="translate(0.00 0) scale(0.006494 0.006202)" d="M763 0H583V-1147Q518 -1085 412.5 -1023Q307 -961 223 -930V-1104Q374 -1175 487 -1276Q600 -1377 647 -1472H763Z" stroke-width="84.7"/>
<path transform="translate(11.09 0) scale(0.006494 0.006202)" d="M763 0H583V-1147Q518 -1085 412.5 -1023Q307 -961 223 -930V-1104Q374 -1175 487 -1276Q600 -1377 647 -1472H763Z" stroke-width="84.7"/>
<text x="18.49" y="0" xml:space="preserve">/8</text>
</g>
<rect x="926.10" y="237.04" width="3.8" height="3.0" rx="1.1" fill="#2a2a2a"/>
<path d="M913.30 250.00L913.30 288.45" stroke="#727272" stroke-width="1.45" fill="none" />
<path d="M913.30 298.45L910.75 286.05L913.30 288.35L915.85 286.05Z" fill="#111" stroke="#111" stroke-width="0.45" stroke-linejoin="miter"/>
<path d="M913.30 298.45L915.85 310.85L913.30 308.55L910.75 310.85Z" fill="#111" stroke="#111" stroke-width="0.45" stroke-linejoin="miter"/>
<path d="M913.30 308.45L913.30 348.50" stroke="#727272" stroke-width="1.45" fill="none" />
<g transform="translate(893.40 362.15) scale(0.9798 1)" fill="#1a1a1a" stroke="#1a1a1a" stroke-width="0.55" font-size="13.3">
<path transform="translate(0.00 0) scale(0.006494 0.006202)" d="M763 0H583V-1147Q518 -1085 412.5 -1023Q307 -961 223 -930V-1104Q374 -1175 487 -1276Q600 -1377 647 -1472H763Z" stroke-width="84.7"/>
<path transform="translate(11.09 0) scale(0.006494 0.006202)" d="M763 0H583V-1147Q518 -1085 412.5 -1023Q307 -961 223 -930V-1104Q374 -1175 487 -1276Q600 -1377 647 -1472H763Z" stroke-width="84.7"/>
<text x="18.49" y="0" xml:space="preserve">/8</text>
</g>
<rect x="926.10" y="352.84" width="3.8" height="3.0" rx="1.1" fill="#2a2a2a"/>
<path d="M913.30 366.70L913.30 405.00" stroke="#727272" stroke-width="1.45" fill="none" />
<path d="M913.30 415.00L910.75 402.60L913.30 404.90L915.85 402.60Z" fill="#111" stroke="#111" stroke-width="0.45" stroke-linejoin="miter"/>
<g transform="translate(899.32 436.05) scale(1.0149 1)" fill="#1a1a1a" stroke="#1a1a1a" stroke-width="0.55" font-size="13.3">
<text x="0.00" y="0" xml:space="preserve">3/8</text>
</g>
<rect x="920.40" y="426.74" width="3.8" height="3.0" rx="1.1" fill="#2a2a2a"/>
<path d="M913.30 446.30L915.85 458.70L913.30 456.40L910.75 458.70Z" fill="#111" stroke="#111" stroke-width="0.45" stroke-linejoin="miter"/>
<path d="M913.30 456.30L913.30 482.70" stroke="#727272" stroke-width="1.45" fill="none" />
<path d="M913.30 507.60L913.30 534.50" stroke="#727272" stroke-width="1.45" fill="none" />
<path d="M913.30 544.50L910.75 532.10L913.30 534.40L915.85 532.10Z" fill="#111" stroke="#111" stroke-width="0.45" stroke-linejoin="miter"/>
<path d="M913.30 552.10L915.85 564.50L913.30 562.20L910.75 564.50Z" fill="#111" stroke="#111" stroke-width="0.45" stroke-linejoin="miter"/>
<path d="M913.30 562.10L913.30 589.00" stroke="#727272" stroke-width="1.45" fill="none" />
<g transform="translate(896.77 600.35) scale(1.0322 1)" fill="#1a1a1a" stroke="#1a1a1a" stroke-width="0.55" font-size="12.9">
<path transform="translate(0.00 0) scale(0.006299 0.006015)" d="M763 0H583V-1147Q518 -1085 412.5 -1023Q307 -961 223 -930V-1104Q374 -1175 487 -1276Q600 -1377 647 -1472H763Z" stroke-width="87.3"/>
<text x="7.17" y="0" xml:space="preserve">/</text>
<path transform="translate(10.76 0) scale(0.006299 0.006015)" d="M763 0H583V-1147Q518 -1085 412.5 -1023Q307 -961 223 -930V-1104Q374 -1175 487 -1276Q600 -1377 647 -1472H763Z" stroke-width="87.3"/>
<text x="17.93" y="0" xml:space="preserve">6</text>
</g>
<rect x="926.10" y="591.32" width="3.8" height="3.0" rx="1.1" fill="#2a2a2a"/>
<path d="M554.80 150.70L622.90 150.70" stroke="#727272" stroke-width="1.45" fill="none" />
<path d="M554.80 446.00L622.90 446.00" stroke="#727272" stroke-width="1.45" fill="none" />
<path d="M559.05 150.50L561.60 162.90L559.05 160.60L556.50 162.90Z" fill="#111" stroke="#111" stroke-width="0.45" stroke-linejoin="miter"/>
<path d="M559.05 160.50L559.05 289.00" stroke="#727272" stroke-width="1.45" fill="none" />
<path d="M559.05 307.30L559.05 436.00" stroke="#727272" stroke-width="1.45" fill="none" />
<path d="M559.05 446.00L556.50 433.60L559.05 435.90L561.60 433.60Z" fill="#111" stroke="#111" stroke-width="0.45" stroke-linejoin="miter"/>
<g transform="translate(551.12 303.35) scale(0.9280 1)" fill="#1a1a1a" stroke="#1a1a1a" stroke-width="0.55" font-size="13.3">
<text x="0.00" y="0" xml:space="preserve">3</text>
</g>
<rect x="561.50" y="294.04" width="3.8" height="3.0" rx="1.1" fill="#2a2a2a"/>
<path d="M593.60 219.00L745.60 219.00" stroke="#727272" stroke-width="1.45" fill="none" />
<path d="M593.60 377.70L745.60 377.70" stroke="#727272" stroke-width="1.45" fill="none" />
<path d="M598.60 219.00L601.15 231.40L598.60 229.10L596.05 231.40Z" fill="#111" stroke="#111" stroke-width="0.45" stroke-linejoin="miter"/>
<path d="M598.60 229.00L598.60 289.00" stroke="#727272" stroke-width="1.45" fill="none" />
<path d="M598.60 307.50L598.60 367.70" stroke="#727272" stroke-width="1.45" fill="none" />
<path d="M598.60 377.70L596.05 365.30L598.60 367.60L601.15 365.30Z" fill="#111" stroke="#111" stroke-width="0.45" stroke-linejoin="miter"/>
<g transform="translate(578.79 303.35) scale(0.9905 1)" fill="#1a1a1a" stroke="#1a1a1a" stroke-width="0.55" font-size="13.3">
<path transform="translate(0.00 0) scale(0.006494 0.006202)" d="M763 0H583V-1147Q518 -1085 412.5 -1023Q307 -961 223 -930V-1104Q374 -1175 487 -1276Q600 -1377 647 -1472H763Z" stroke-width="84.7"/>
<text x="7.40" y="0" xml:space="preserve"> 5/8</text>
</g>
<rect x="611.30" y="294.04" width="3.8" height="3.0" rx="1.1" fill="#2a2a2a"/>
<ellipse cx="747.90" cy="465.70" rx="3.75" ry="4.10" fill="none" stroke="#1a1a1a" stroke-width="1.85"/>
<path d="M745.20 469.39L750.60 462.01" stroke="#1a1a1a" stroke-width="1.0" fill="none"/>
<g transform="translate(758.52 470.55) scale(0.9740 1)" fill="#1a1a1a" stroke="#1a1a1a" stroke-width="0.55" font-size="12.8">
<text x="0.00" y="0" xml:space="preserve">7/32</text>
</g>
<rect x="787.10" y="461.59" width="3.8" height="3.0" rx="1.1" fill="#2a2a2a"/>
<path d="M798.90 465.40L823.10 465.40" stroke="#727272" stroke-width="1.45" fill="none" />
<path d="M823.10 465.40L841.99 423.11" stroke="#727272" stroke-width="1.45" fill="none" />
<path d="M849.26 405.66L848.67 413.44L846.49 412.31L844.15 411.55Z" fill="#111" stroke="#111" stroke-width="0.45" stroke-linejoin="miter"/>
<path d="M841.64 423.94L842.23 416.16L844.41 417.29L846.75 418.05Z" fill="#111" stroke="#111" stroke-width="0.45" stroke-linejoin="miter"/>
<g transform="translate(573.52 512.75) scale(0.9683 1)" fill="#1a1a1a" stroke="#1a1a1a" stroke-width="0.55" font-size="13.3">
<text x="0.00" y="0" xml:space="preserve">3/32</text>
</g>
<rect x="602.10" y="503.44" width="3.8" height="3.0" rx="1.1" fill="#2a2a2a"/>
<path d="M589.50 515.80L589.50 542.20" stroke="#727272" stroke-width="1.45" fill="none" />
<path d="M589.50 552.20L586.95 539.80L589.50 542.10L592.05 539.80Z" fill="#111" stroke="#111" stroke-width="0.45" stroke-linejoin="miter"/>
<path d="M589.50 560.00L592.05 572.40L589.50 570.10L586.95 572.40Z" fill="#111" stroke="#111" stroke-width="0.45" stroke-linejoin="miter"/>
<path d="M589.50 570.00L589.50 597.30" stroke="#727272" stroke-width="1.45" fill="none" />
<path d="M584.30 551.90L622.50 551.90" stroke="#727272" stroke-width="1.45" fill="none" />
<path d="M584.30 560.20L622.50 560.20" stroke="#727272" stroke-width="1.45" fill="none" />
<path d="M627.90 565.60L627.90 603.50" stroke="#727272" stroke-width="1.45" fill="none" />
<path d="M874.50 565.60L874.50 603.50" stroke="#727272" stroke-width="1.45" fill="none" />
<path d="M627.90 599.10L640.30 596.55L638.00 599.10L640.30 601.65Z" fill="#111" stroke="#111" stroke-width="0.45" stroke-linejoin="miter"/>
<path d="M637.90 599.10L727.60 599.10" stroke="#727272" stroke-width="1.45" fill="none" />
<path d="M774.40 599.10L864.50 599.10" stroke="#727272" stroke-width="1.45" fill="none" />
<path d="M874.50 599.10L862.10 601.65L864.40 599.10L862.10 596.55Z" fill="#111" stroke="#111" stroke-width="0.45" stroke-linejoin="miter"/>
<g transform="translate(731.02 603.95) scale(0.9825 1)" fill="#1a1a1a" stroke="#1a1a1a" stroke-width="0.55" font-size="13.3">
<text x="0.00" y="0" xml:space="preserve">2 </text>
<path transform="translate(11.09 0) scale(0.006494 0.006202)" d="M763 0H583V-1147Q518 -1085 412.5 -1023Q307 -961 223 -930V-1104Q374 -1175 487 -1276Q600 -1377 647 -1472H763Z" stroke-width="84.7"/>
<text x="18.49" y="0" xml:space="preserve">/2</text>
</g>
<rect x="765.10" y="594.64" width="3.8" height="3.0" rx="1.1" fill="#2a2a2a"/>
<ellipse cx="677.65" cy="515.90" rx="3.40" ry="3.95" fill="none" stroke="#1a1a1a" stroke-width="1.85"/>
<path d="M675.20 519.45L680.10 512.35" stroke="#1a1a1a" stroke-width="1.0" fill="none"/>
<g transform="translate(682.80 520.45) scale(1.0552 1)" fill="#1a1a1a" stroke="#1a1a1a" stroke-width="0.55" font-size="12.4">
<path transform="translate(0.00 0) scale(0.006055 0.005782)" d="M763 0H583V-1147Q518 -1085 412.5 -1023Q307 -961 223 -930V-1104Q374 -1175 487 -1276Q600 -1377 647 -1472H763Z" stroke-width="90.8"/>
<text x="6.90" y="0" xml:space="preserve">/2</text>
</g>
<rect x="705.40" y="511.77" width="3.8" height="3.0" rx="1.1" fill="#2a2a2a"/>
<path d="M717.60 515.50L728.30 515.50" stroke="#727272" stroke-width="1.45" fill="none" />
<path d="M728.30 515.50L762.82 564.57" stroke="#727272" stroke-width="1.45" fill="none" />
<path d="M764.70 567.28L758.29 562.00L760.65 561.45L761.98 559.43Z" fill="#111" stroke="#111" stroke-width="0.45" stroke-linejoin="miter"/>
<path d="M738.10 529.02L744.51 534.30L742.15 534.85L740.82 536.87Z" fill="#111" stroke="#111" stroke-width="0.45" stroke-linejoin="miter"/>
</g></svg></body></html>
